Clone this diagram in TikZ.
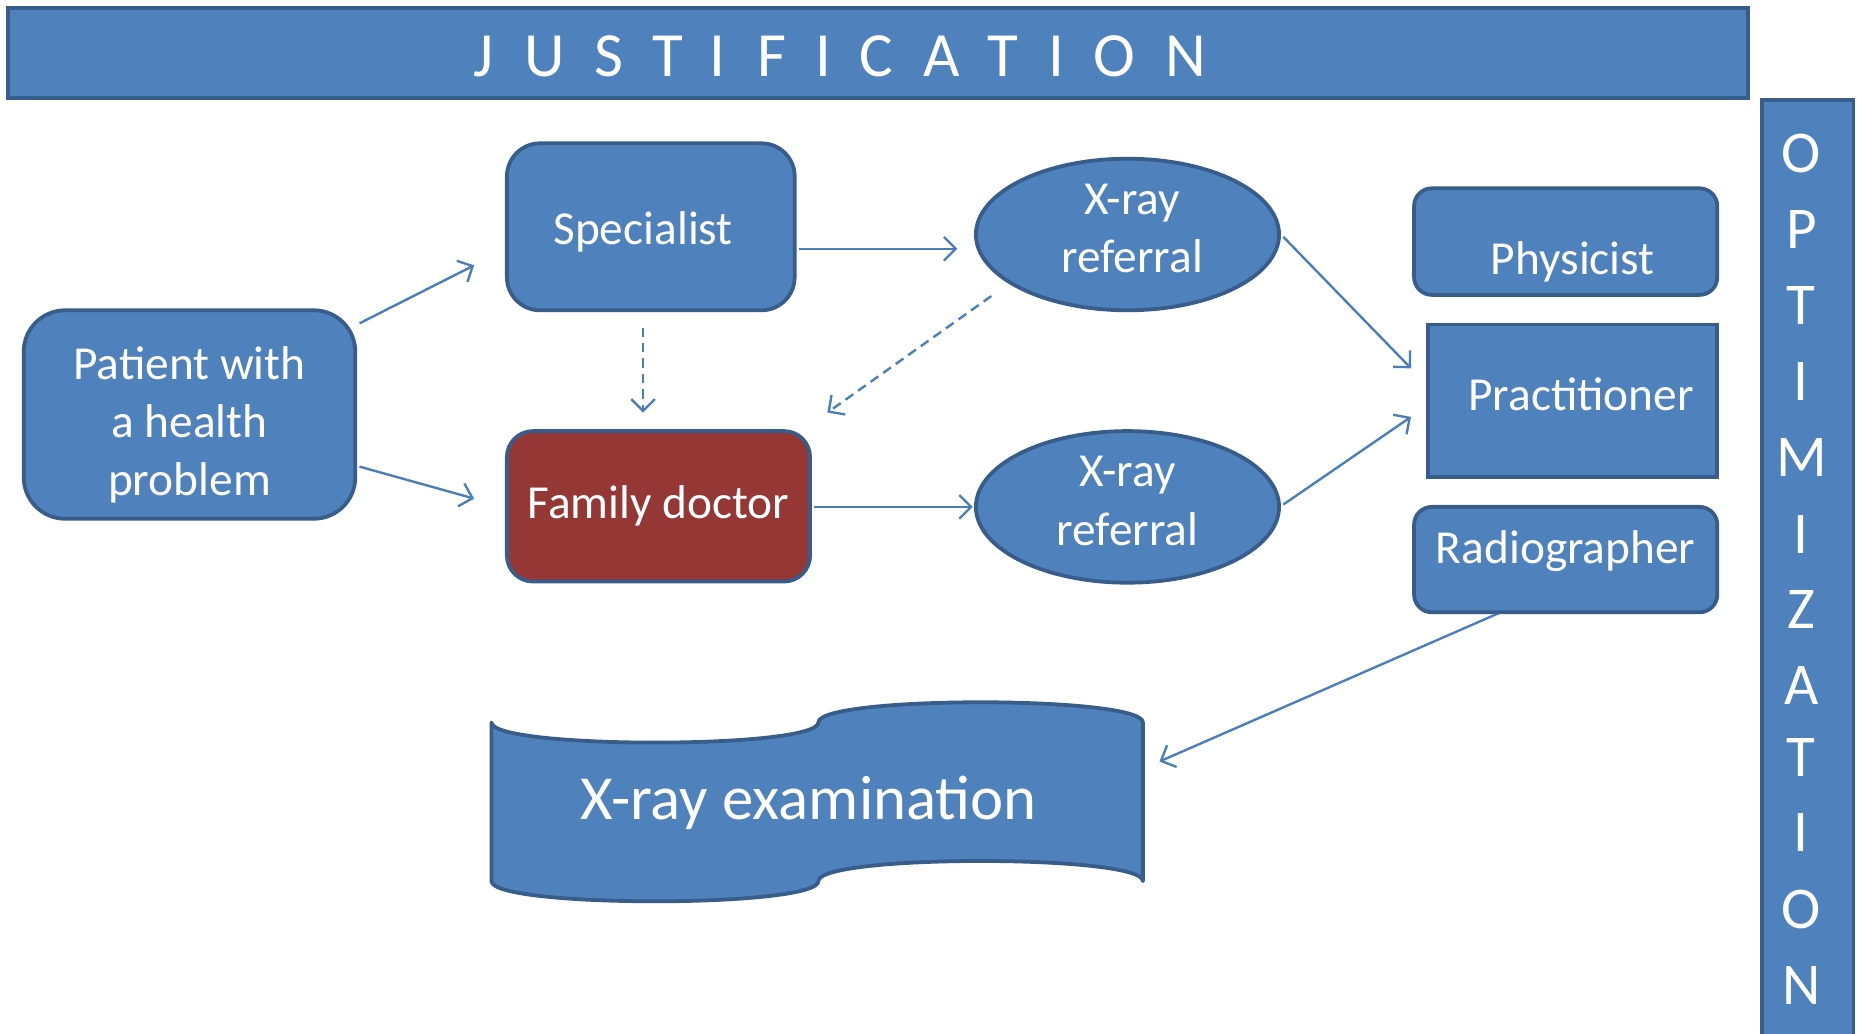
\documentclass[tikz,border=0pt]{standalone}
\usepackage{fontspec}
\setmainfont{Carlito}
\usetikzlibrary{arrows.meta,shapes.geometric,calc,backgrounds}
\definecolor{boxblue}{HTML}{4F81BD}
\definecolor{edgeblue}{HTML}{385D8A}
\definecolor{docred}{HTML}{953735}
\definecolor{arrowblue}{HTML}{4A7EBB}
\tikzset{
  bluebox/.style={draw=edgeblue, line width=1.6pt, fill=boxblue, text=white, font=\fontsize{20}{24.5}\selectfont, align=center, inner sep=0pt},
  referral/.style={bluebox, ellipse, minimum width=128pt, minimum height=64pt},
  boxtext/.style={text=white, font=\fontsize{20}{24.5}\selectfont, align=center, inner sep=0pt},
  conn/.style={draw=arrowblue, line width=1pt, -{Straight Barb[length=5pt,width=10pt]}},
  dconn/.style={conn, dash pattern=on 4pt off 2.5pt},
  titlechar/.style={text=white, font=\fontsize{26.6}{30}\selectfont, anchor=base, inner sep=0pt},
  optchar/.style={text=white, font=\fontsize{25}{30}\selectfont, anchor=base, inner sep=0pt},
}
\begin{document}
\begin{tikzpicture}[x=0.5pt, y=-0.5pt]
\useasboundingbox (0,0) rectangle (1568,873);

% bars
\node[bluebox, rectangle, minimum width=734.5pt, minimum height=38pt] (just) at (741.5,45) {};
\foreach \c/\x [count=\i] in {J/408,U/460,S/514,T/564,I/606,F/652,I/695,C/740,A/795,T/847,I/892,O/941,N/1001}
  \node[titlechar] (j\i) at (\x,65) {\c};
\node[bluebox, rectangle, minimum width=38.5pt, minimum height=400pt, anchor=north] (opt) at (1526.5,83) {};
\foreach \c/\y [count=\i] in {O/130,P/194,T/258,I/322,M/386,I/451,Z/515,A/579,T/640,I/703,O/768,N/832}
  \node[optchar] (o\i) at (1521,\y+16) {\c};

% main boxes
\node[bluebox, rectangle, rounded corners=17.5pt, minimum width=140pt, minimum height=88pt] (pat) at (160,350) {};
\node[boxtext] (patt) at (160,359) {Patient with\\a health\\problem};
\node[bluebox, rectangle, rounded corners=14pt, minimum width=121.5pt, minimum height=70.5pt] (spec) at (549.5,191.5) {};
\node[boxtext] (spect) at (543,195.5) {Specialist};
\node[bluebox, rectangle, rounded corners=11pt, fill=docred, minimum width=128pt, minimum height=63.5pt] (fam) at (556,427.5) {Family doctor};
\node[referral] (ell1) at (952,198) {};
\node[boxtext] (ell1t) at (956,193) {X-ray\\referral};
\node[referral] (ell2) at (952,428) {};
\node[boxtext] (ell2t) at (952,423) {X-ray\\referral};
\node[bluebox, rectangle, rounded corners=7.5pt, minimum width=128pt, minimum height=45pt] (phys) at (1322,204) {};
\node[boxtext] (physt) at (1328,221) {Physicist};
\node[bluebox, rectangle, minimum width=122pt, minimum height=64.5pt] (prac) at (1328,338.5) {};
\node[boxtext] (pract) at (1335,333) {Practitioner};
\node[bluebox, rectangle, rounded corners=7.5pt, minimum width=128pt, minimum height=44.5pt] (rad) at (1322,472.5) {};
\node[boxtext] (radt) at (1322,465) {Radiographer};

% X-ray examination wave shape
\draw[draw=edgeblue, line width=1.6pt, fill=boxblue, line join=round]
  (415,610) .. controls (415,632.7) and (691,632.7) .. (691,610)
  .. controls (691,587.3) and (965,587.3) .. (965,610)
  -- (965,744)
  .. controls (965,721.3) and (691,721.3) .. (691,744)
  .. controls (691,766.7) and (415,766.7) .. (415,744) -- cycle;
\node[text=white, font=\fontsize{26.5}{30}\selectfont, inner sep=0pt] (exam) at (683,678) {X-ray examination};

% connectors
\draw[conn] ($(pat.east)+(2,-77)$) -- ($(spec.west)+(-26,32.5)$);
\draw[conn] ($(pat.east)+(2,44)$) -- ($(fam.west)+(-26,-6.5)$);
\draw[conn] ($(spec.east)+(2,18.5)$) -- ($(ell1.west)+(-14,12)$);
\draw[dconn] ($(spec.south)+(-6.5,13)$) -- ($(fam.north)+(-13,-14)$);
\draw[dconn] ($(ell1.center)+(-115,52)$) -- ($(fam.north east)+(13,-14)$);
\draw[conn] ($(fam.east)+(2,0.5)$) -- ($(ell2.west)+(-1,0)$);
\draw[conn] ($(ell1.east)+(2,2)$) -- ($(prac.west)+(-13,-27.5)$);
\draw[conn] ($(ell2.east)+(2,-2)$) -- ($(prac.west)+(-13,13.5)$);
\begin{scope}[on background layer]
\fill[white] (0,0) rectangle (1568,873);
\draw[conn] ($(rad.center)+(0,20.5)$) -- ($(exam.center)+(296,-35)$);
\end{scope}
\end{tikzpicture}
\end{document}
